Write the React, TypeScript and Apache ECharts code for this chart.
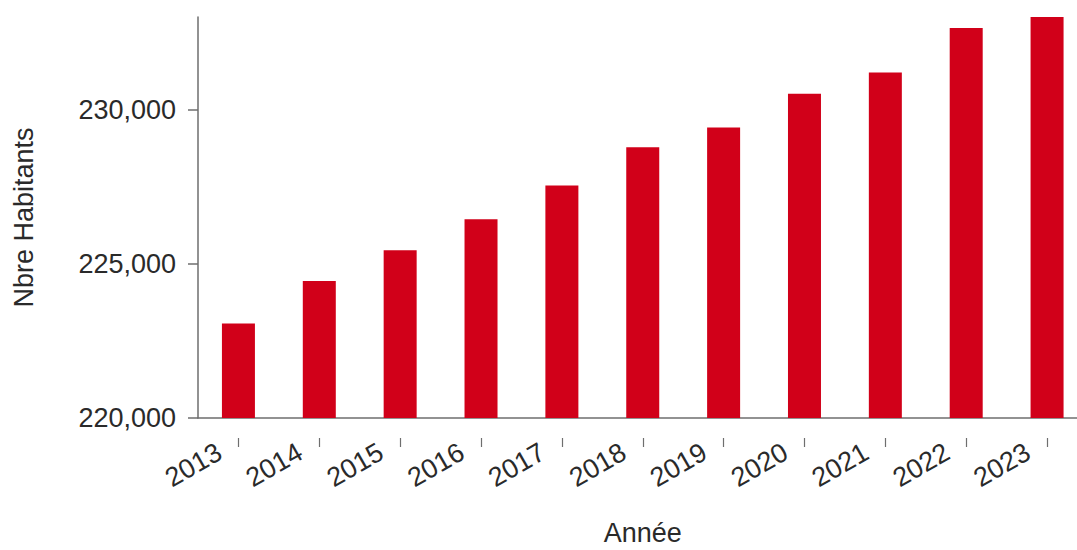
import React, { useEffect, useRef } from "react";
import * as echarts from "echarts";

const years = ["2013", "2014", "2015", "2016", "2017", "2018", "2019", "2020", "2021", "2022", "2023"];
const habitants = [223065, 224443, 225437, 226440, 227540, 228780, 229417, 230508, 231197, 232644, 233010];
const yTicks = [220000, 225000, 230000];

const FONT = "Liberation Sans, Arial, Helvetica, sans-serif";
const TEXT = "#2a2a2a";
const AXIS = "#6e6e6e";

export default function App() {
  const ref = useRef<HTMLDivElement>(null);
  useEffect(() => {
    if (!ref.current) return;
    const chart = echarts.init(ref.current, undefined, { renderer: "svg" });
    chart.setOption({
      animation: false,
      grid: { left: 198, top: 17, bottom: 132, right: -10.5, containLabel: false, outerBoundsMode: "none" },
      xAxis: [
        {
          type: "category",
          data: years,
          name: "Année",
          nameLocation: "middle",
          nameGap: 104,
          nameTextStyle: { fontSize: 27, lineHeight: 22, color: TEXT, fontFamily: FONT },
          axisLine: { lineStyle: { color: AXIS, width: 1.5 } },
          axisTick: { show: false },
          axisLabel: {
            rotate: 30,
            margin: 21,
            padding: [0, 22, 0, 0],
            fontSize: 27,
            color: TEXT,
            fontFamily: FONT,
            interval: 0,
          },
        },
        {
          type: "category",
          data: years,
          position: "bottom",
          offset: 20,
          axisLine: { show: false },
          axisTick: { show: true, alignWithLabel: true, length: 9, lineStyle: { color: AXIS, width: 1.2 } },
          axisLabel: { show: false },
        },
      ],
      yAxis: {
        type: "value",
        min: 220000,
        max: 233000,
        interval: 5000,
        name: "Nbre Habitants",
        nameLocation: "middle",
        nameGap: 161,
        nameTextStyle: { fontSize: 27, color: TEXT, fontFamily: FONT },
        splitLine: { show: false },
        axisLine: { show: true, lineStyle: { color: AXIS, width: 1.5 } },
        axisTick: { show: true, length: 10, customValues: yTicks, lineStyle: { color: AXIS, width: 1.5 } },
        axisLabel: {
          customValues: yTicks,
          margin: 22,
          fontSize: 27,
          color: TEXT,
          fontFamily: FONT,
          formatter: (v: number) => v.toLocaleString("en-US"),
        },
      },
      series: [
        {
          type: "bar",
          data: habitants,
          xAxisIndex: 0,
          barWidth: 33,
          itemStyle: { color: "#d10019" },
        },
      ],
    });
    return () => chart.dispose();
  }, []);
  return (
    <div
      ref={ref}
      style={{ position: "absolute", left: 0, top: 0, width: 1077, height: 550 }}
    />
  );
}
